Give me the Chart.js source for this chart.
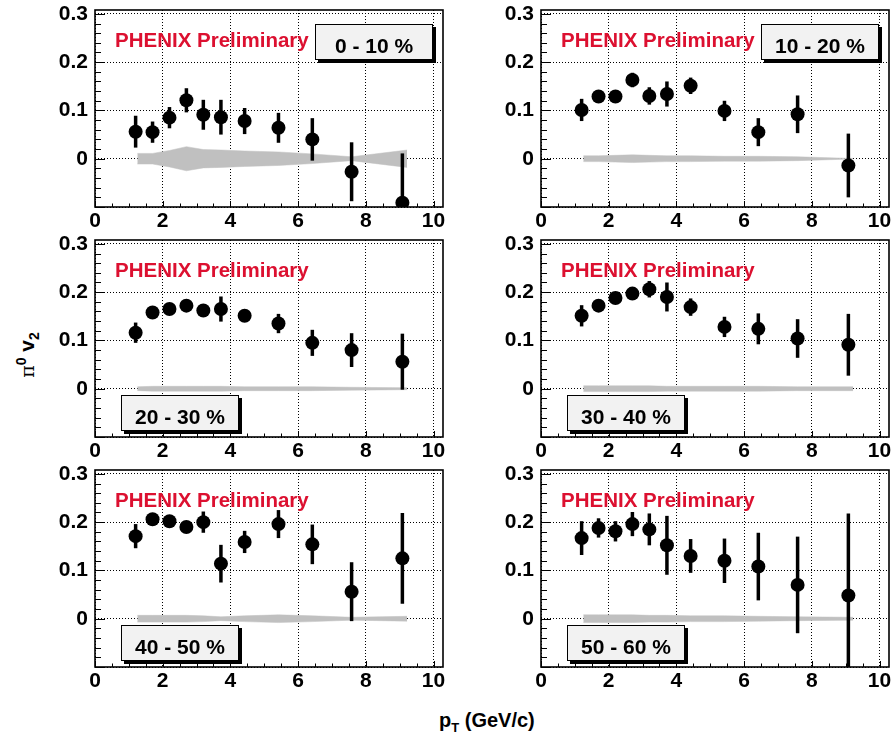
<!DOCTYPE html>
<html>
<head>
<meta charset="utf-8">
<script src="https://cdn.jsdelivr.net/npm/chart.js@4/dist/chart.umd.min.js"></script>
<style>
  html, body { margin:0; padding:0; background:#fff; }
  body { width:892px; height:734px; position:relative; overflow:hidden; font-family:'Liberation Sans', Arial, Helvetica, sans-serif; }
  .pc { position:absolute; }
  .phenix { position:absolute; color:#dc1030; font-weight:bold; font-size:20.5px; line-height:20px; white-space:nowrap; z-index:5; }
  .cbox { position:absolute; box-sizing:border-box; width:118px; height:36px; border:1px solid #000; background:#f2f2f2;
          box-shadow:3px 3px 0 #000; font-weight:bold; font-size:21px; line-height:20px; text-align:center; padding-top:10.5px; color:#000; z-index:5; white-space:nowrap; }
  .ytitle { position:absolute; left:-9px; top:343px; width:60px; height:24px; line-height:24px; text-align:center; transform:rotate(-90deg);
            font-size:21px; font-weight:bold; white-space:nowrap; }
  .ytitle .pi { font-family:'DejaVu Serif', serif; font-weight:normal; font-size:19px; }
  .ytitle sup, .ytitle sub { font-size:14px; }
  .xtitle { position:absolute; left:439px; top:710px; font-size:20px; font-weight:bold; line-height:20px; white-space:nowrap; }
  .xtitle sub { font-size:13px; }
</style>
</head>
<body>
<div class="ytitle"><span class="pi">π</span><sup>0</sup> v<sub>2</sub></div>
<div class="xtitle">p<sub>T</sub> (GeV/c)</div>
<script>
// ---------------- data ----------------
const centralities = ['0 - 10 %', '10 - 20 %', '20 - 30 %', '30 - 40 %', '40 - 50 %', '50 - 60 %'];
const ptX  = [1.2, 1.7, 2.2, 2.7, 3.2, 3.72, 4.42, 5.42, 6.42, 7.58, 9.08];
const sysX = [1.25, 1.7, 2.2, 2.7, 3.2, 3.72, 4.42, 5.42, 6.42, 7.58, 9.22];
const xTickLabels = ['0', '2', '4', '6', '8', '10'];
const yTickLabels = ['0', '0.1', '0.2', '0.3'];

const v2_0_10   = [0.056, 0.055, 0.085, 0.121, 0.091, 0.086, 0.078, 0.064, 0.040, -0.027, -0.091];
const err_0_10  = [0.033, 0.022, 0.022, 0.025, 0.031, 0.036, 0.027, 0.031, 0.044, 0.061, 0.102];
const sys_0_10  = [0.011, 0.011, 0.017, 0.025, 0.019, 0.018, 0.016, 0.014, 0.010, 0.004, 0.018];

const v2_10_20  = [0.101, 0.129, 0.129, 0.163, 0.130, 0.134, 0.151, 0.099, 0.055, 0.092, -0.014];
const err_10_20 = [0.023, 0.010, 0.010, 0.015, 0.018, 0.026, 0.017, 0.021, 0.029, 0.039, 0.066];
const sys_10_20 = [0.006, 0.006, 0.007, 0.008, 0.007, 0.006, 0.006, 0.005, 0.005, 0.004, 0.0005];

const v2_20_30  = [0.116, 0.158, 0.165, 0.172, 0.162, 0.165, 0.151, 0.135, 0.095, 0.080, 0.056];
const err_20_30 = [0.021, 0.008, 0.008, 0.008, 0.008, 0.026, 0.010, 0.020, 0.027, 0.035, 0.058];
const sys_20_30 = [0.004, 0.005, 0.005, 0.005, 0.005, 0.005, 0.004, 0.004, 0.004, 0.003, 0.002];

const v2_30_40  = [0.151, 0.172, 0.188, 0.197, 0.206, 0.190, 0.169, 0.128, 0.124, 0.104, 0.091];
const err_30_40 = [0.022, 0.008, 0.008, 0.008, 0.017, 0.030, 0.018, 0.021, 0.032, 0.040, 0.064];
const sys_30_40 = [0.006, 0.006, 0.006, 0.006, 0.006, 0.005, 0.005, 0.005, 0.005, 0.004, 0.004];

const v2_40_50  = [0.171, 0.206, 0.202, 0.190, 0.200, 0.114, 0.159, 0.196, 0.154, 0.056, 0.125];
const err_40_50 = [0.025, 0.008, 0.008, 0.010, 0.022, 0.039, 0.023, 0.029, 0.041, 0.061, 0.094];
const sys_40_50 = [0.007, 0.007, 0.007, 0.007, 0.006, 0.004, 0.006, 0.008, 0.006, 0.003, 0.005];

const v2_50_60  = [0.167, 0.188, 0.181, 0.196, 0.185, 0.152, 0.130, 0.120, 0.108, 0.070, 0.048];
const err_50_60 = [0.035, 0.020, 0.021, 0.025, 0.033, 0.061, 0.035, 0.046, 0.070, 0.100, 0.170];
const sys_50_60 = [0.008, 0.008, 0.008, 0.008, 0.007, 0.007, 0.006, 0.006, 0.005, 0.004, 0.003];

const panelVals = [v2_0_10, v2_10_20, v2_20_30, v2_30_40, v2_40_50, v2_50_60];
const panelErrs = [err_0_10, err_10_20, err_20_30, err_30_40, err_40_50, err_50_60];
const panelSys  = [sys_0_10, sys_10_20, sys_20_30, sys_30_40, sys_40_50, sys_50_60];

// ---------------- layout ----------------
const PW = 348, PH = 197;
const plotPos = [[95, 10], [541, 10], [95, 240], [541, 240], [95, 470], [541, 470]];
const LPAD = 50, TPAD = 10, RPAD = 3, BPAD = 32;

Chart.defaults.font.family = "'Liberation Sans', Arial, Helvetica, sans-serif";
Chart.defaults.color = '#000';

const hepPlugin = {
  id: 'hep',
  afterDatasetsDraw(chart) {
    const o = chart.options.plugins.hep;
    const {ctx, chartArea: a} = chart;
    const xs = chart.scales.x, ys = chart.scales.y;
    ctx.save();
    ctx.beginPath();
    ctx.rect(a.left, a.top, a.right - a.left, a.bottom - a.top);
    ctx.clip();
    ctx.strokeStyle = '#000';
    ctx.lineWidth = 3.5;
    ctx.lineCap = 'butt';
    o.xs.forEach((xv, i) => {
      const px = xs.getPixelForValue(xv);
      ctx.beginPath();
      ctx.moveTo(px, ys.getPixelForValue(o.vals[i] - o.errs[i]));
      ctx.lineTo(px, ys.getPixelForValue(o.vals[i] + o.errs[i]));
      ctx.stroke();
    });
    ctx.restore();
  },
  afterDraw(chart) {
    const {ctx, chartArea: a} = chart;
    const xs = chart.scales.x, ys = chart.scales.y;
    ctx.save();
    ctx.strokeStyle = '#000';
    ctx.lineWidth = 1;
    for (let k = 0; k <= 20; k++) {
      const v = -0.1 + 0.02 * k;
      const py = Math.round(ys.getPixelForValue(v)) + 0.5;
      const len = (k % 5 === 0) ? 10 : 6;
      ctx.beginPath(); ctx.moveTo(a.left, py); ctx.lineTo(a.left + len, py); ctx.stroke();
    }
    for (let k = 0; k <= 20; k++) {
      const v = 0.5 * k;
      const px = Math.round(xs.getPixelForValue(v)) + 0.5;
      const len = (k % 4 === 0) ? 6 : 3.5;
      ctx.beginPath(); ctx.moveTo(px, a.bottom); ctx.lineTo(px, a.bottom - len); ctx.stroke();
    }
    ctx.lineWidth = 1.6;
    ctx.strokeRect(a.left, a.top, a.right - a.left, a.bottom - a.top);
    ctx.restore();
  }
};

plotPos.forEach(([pl, pt], idx) => {
  const wrap = document.createElement('div');
  wrap.className = 'pc';
  wrap.style.left = (pl - LPAD) + 'px';
  wrap.style.top = (pt - TPAD) + 'px';
  wrap.style.width = (LPAD + PW + RPAD) + 'px';
  wrap.style.height = (TPAD + PH + BPAD) + 'px';
  const cv = document.createElement('canvas');
  wrap.appendChild(cv);
  document.body.appendChild(wrap);

  const vals = panelVals[idx], errs = panelErrs[idx], sys = panelSys[idx];

  new Chart(cv, {
    type: 'scatter',
    data: {
      datasets: [
        { type: 'line', data: sysX.map((x, i) => ({x, y: sys[i]})), fill: '+1',
          backgroundColor: '#c0c0c0', borderColor: '#c0c0c0', borderWidth: 0.5, pointRadius: 0, tension: 0, order: 3 },
        { type: 'line', data: sysX.map((x, i) => ({x, y: -sys[i]})), fill: false,
          backgroundColor: '#c0c0c0', borderColor: '#c0c0c0', borderWidth: 0.5, pointRadius: 0, tension: 0, order: 2 },
        { type: 'scatter', data: ptX.map((x, i) => ({x, y: vals[i]})),
          pointRadius: 7, pointHoverRadius: 7, backgroundColor: '#000', borderColor: '#000', borderWidth: 0, order: 1 }
      ]
    },
    options: {
      responsive: true,
      maintainAspectRatio: false,
      animation: false,
      events: [],
      layout: { autoPadding: false, padding: { left: 0, top: TPAD, right: RPAD, bottom: 0 } },
      plugins: {
        legend: { display: false },
        tooltip: { enabled: false },
        hep: { xs: ptX, vals, errs }
      },
      scales: {
        x: {
          type: 'linear', min: 0, max: 10.28,
          grid: { color: '#000', lineWidth: 1, drawTicks: false },
          border: { display: false, dash: [1, 2] },
          ticks: { stepSize: 2, includeBounds: false, padding: 2, maxRotation: 0, autoSkip: false,
                   font: { size: 21, weight: 'bold' },
                   callback: (v) => { const i = xTickLabels.indexOf(String(Math.round(v))); return i >= 0 ? xTickLabels[i] : ''; } },
          afterFit: (s) => { s.height = BPAD; s.paddingLeft = 0; s.paddingRight = 0; }
        },
        y: {
          type: 'linear', min: -0.1, max: 0.308,
          grid: { color: '#000', lineWidth: 1, drawTicks: false },
          border: { display: false, dash: [1, 2] },
          ticks: { stepSize: 0.1, includeBounds: false, padding: 7, autoSkip: false,
                   font: { size: 21, weight: 'bold' },
                   callback: (v) => { if (v < -0.05) return ''; const k = Math.round(v * 10); return yTickLabels[k] !== undefined ? yTickLabels[k] : ''; } },
          afterFit: (s) => { s.width = LPAD; s.paddingTop = 0; s.paddingBottom = 0; }
        }
      }
    },
    plugins: [hepPlugin]
  });

  const ph = document.createElement('div');
  ph.className = 'phenix';
  ph.textContent = 'PHENIX Preliminary';
  ph.style.left = (pl + 20) + 'px';
  ph.style.top = (pt + 20.4) + 'px';
  document.body.appendChild(ph);

  const bx = document.createElement('div');
  bx.className = 'cbox';
  bx.textContent = centralities[idx];
  if (idx < 2) { bx.style.left = (pl + 220) + 'px'; bx.style.top = (pt + 14) + 'px'; }
  else { bx.style.left = (pl + 26) + 'px'; bx.style.top = (pt + 155) + 'px'; }
  document.body.appendChild(bx);
});
</script>
</body>
</html>
